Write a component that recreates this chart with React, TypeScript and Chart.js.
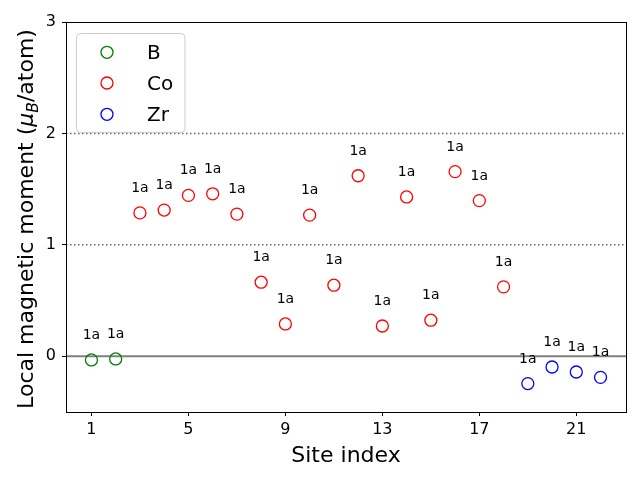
import React, { useEffect, useRef } from "react";
import { Chart, registerables } from "chart.js";

Chart.register(...registerables);

// ---- data ----
const bSites = [1, 2];
const bMoments = [-0.033, -0.024];
const coSites = [3, 4, 5, 6, 7, 8, 9, 10, 11, 12, 13, 14, 15, 16, 17, 18];
const coMoments = [1.287, 1.312, 1.444, 1.458, 1.276, 0.665, 0.29, 1.267, 0.638, 1.62, 0.272, 1.43, 0.324, 1.657, 1.397, 0.623];
const zrSites = [19, 20, 21, 22];
const zrMoments = [-0.245, -0.096, -0.141, -0.189];
const bLabels = ["1a", "1a"];
const coLabels = ["1a", "1a", "1a", "1a", "1a", "1a", "1a", "1a", "1a", "1a", "1a", "1a", "1a", "1a", "1a", "1a"];
const zrLabels = ["1a", "1a", "1a", "1a"];
const xTicks = [1, 5, 9, 13, 17, 21];
const yTicks = [0, 1, 2, 3];
const dottedLevels = [1, 2];
const zeroLevel = 0;
const xRange = [-0.05, 23.05];
const yRange = [-0.5, 3];
const legendNames = ["B", "Co", "Zr"];
const seriesColors = ["green", "red", "blue"];

const FONT = '"DejaVu Sans", sans-serif';

const toPoints = (xs: number[], ys: number[]) => xs.map((x, i) => ({ x, y: ys[i] }));

const customPlugin = {
  id: "customDecor",
  afterDatasetsDraw(chart: any) {
    const { ctx, chartArea: a, scales } = chart;
    const xs = scales.x;
    const ys = scales.y;
    ctx.save();
    // annotations
    ctx.font = `14px ${FONT}`;
    ctx.fillStyle = "#000";
    ctx.textAlign = "center";
    ctx.textBaseline = "alphabetic";
    const labelSets = [bLabels, coLabels, zrLabels];
    [0, 1, 2].forEach((di) => {
      const ds = chart.data.datasets[di];
      ds.data.forEach((p: any, i: number) => {
        const px = xs.getPixelForValue(p.x);
        const py = ys.getPixelForValue(p.y);
        ctx.fillText(labelSets[di][i], px, py - 21);
      });
    });
    // frame
    ctx.strokeStyle = "#000";
    ctx.lineWidth = 1;
    ctx.strokeRect(a.left + 0.5, a.top + 0.5, a.width, a.height);
    ctx.restore();
  },
  afterDraw(chart: any) {
    const { ctx, chartArea: a } = chart;
    ctx.save();
    // legend
    const lx = 76.5, ly = 33.5, lw = 108.5, lh = 99;
    const r = 4;
    ctx.beginPath();
    ctx.moveTo(lx + r, ly);
    ctx.lineTo(lx + lw - r, ly);
    ctx.quadraticCurveTo(lx + lw, ly, lx + lw, ly + r);
    ctx.lineTo(lx + lw, ly + lh - r);
    ctx.quadraticCurveTo(lx + lw, ly + lh, lx + lw - r, ly + lh);
    ctx.lineTo(lx + r, ly + lh);
    ctx.quadraticCurveTo(lx, ly + lh, lx, ly + lh - r);
    ctx.lineTo(lx, ly + r);
    ctx.quadraticCurveTo(lx, ly, lx + r, ly);
    ctx.closePath();
    ctx.fillStyle = "rgba(255,255,255,0.8)";
    ctx.fill();
    ctx.strokeStyle = "#cccccc";
    ctx.lineWidth = 1;
    ctx.stroke();
    const rowY = [52.3, 83, 114.3];
    ctx.font = `20px ${FONT}`;
    ctx.textAlign = "left";
    ctx.textBaseline = "alphabetic";
    legendNames.forEach((name, i) => {
      ctx.beginPath();
      ctx.arc(107, rowY[i], 6, 0, Math.PI * 2);
      ctx.strokeStyle = seriesColors[i];
      ctx.lineWidth = 1.3;
      ctx.stroke();
      ctx.fillStyle = "#000";
      ctx.fillText(name, 147, rowY[i] + 7);
    });

    // x title
    ctx.font = `22px ${FONT}`;
    ctx.fillStyle = "#000";
    ctx.textAlign = "center";
    ctx.fillText("Site index", (a.left + a.right) / 2, 462);

    // y title with math
    const parts = [
      { t: "Local magnetic moment (", f: `22px ${FONT}`, dy: 0 },
      { t: "μ", f: `italic 22px ${FONT}`, dy: 0 },
      { t: "B", f: `italic 15.5px ${FONT}`, dy: 4.5 },
      { t: "/atom)", f: `22px ${FONT}`, dy: 0 },
    ];
    let total = 0;
    const widths = parts.map((p) => {
      ctx.font = p.f;
      const w = ctx.measureText(p.t).width;
      total += w;
      return w;
    });
    ctx.translate(33, 219);
    ctx.rotate(-Math.PI / 2);
    ctx.textAlign = "left";
    let cx = -total / 2;
    parts.forEach((p, i) => {
      ctx.font = p.f;
      ctx.fillText(p.t, cx, p.dy);
      cx += widths[i];
    });
    ctx.restore();
  },
};

export default function App() {
  const ref = useRef<HTMLCanvasElement | null>(null);
  useEffect(() => {
    if (!ref.current) return;
    const lineData = (v: number) => [
      { x: xRange[0], y: v },
      { x: xRange[1], y: v },
    ];
    const chart = new Chart(ref.current, {
      type: "scatter",
      data: {
        datasets: [
          {
            label: legendNames[0],
            data: toPoints(bSites, bMoments),
            borderColor: seriesColors[0],
            backgroundColor: "rgba(0,0,0,0)",
            pointRadius: 6,
            borderWidth: 1.3,
            order: 0,
          },
          {
            label: legendNames[1],
            data: toPoints(coSites, coMoments),
            borderColor: seriesColors[1],
            backgroundColor: "rgba(0,0,0,0)",
            pointRadius: 6,
            borderWidth: 1.3,
            order: 0,
          },
          {
            label: legendNames[2],
            data: toPoints(zrSites, zrMoments),
            borderColor: seriesColors[2],
            backgroundColor: "rgba(0,0,0,0)",
            pointRadius: 6,
            borderWidth: 1.3,
            order: 0,
          },
          ...dottedLevels.map((v) => ({
            type: "line" as const,
            label: "ref" + v,
            data: lineData(v),
            borderColor: "#666666",
            borderWidth: 1.5,
            borderDash: [1.5, 2.5],
            pointRadius: 0,
            showLine: true,
            order: 10,
          })),
          {
            type: "line" as const,
            label: "zero",
            data: lineData(zeroLevel),
            borderColor: "#808080",
            borderWidth: 2,
            pointRadius: 0,
            showLine: true,
            order: 10,
          },
        ],
      },
      options: {
        responsive: false,
        animation: false,
        layout: { padding: { left: 0, top: 22, right: 14, bottom: 0 } },
        plugins: {
          legend: { display: false },
          tooltip: { enabled: false },
        },
        scales: {
          x: {
            type: "linear",
            min: xRange[0],
            max: xRange[1],
            afterBuildTicks: (s: any) => {
              s.ticks = xTicks.map((v) => ({ value: v }));
            },
            afterFit: (s: any) => {
              s.height = 68;
            },
            grid: {
              drawOnChartArea: false,
              drawTicks: true,
              tickLength: 4,
              tickColor: "#000",
              tickWidth: 1,
            },
            border: { display: false },
            ticks: {
              color: "#000",
              font: { family: "DejaVu Sans", size: 16 },
              padding: 4,
              maxRotation: 0,
              callback: (v: any) => String(v),
            },
          },
          y: {
            type: "linear",
            min: yRange[0],
            max: yRange[1],
            afterBuildTicks: (s: any) => {
              s.ticks = yTicks.map((v) => ({ value: v }));
            },
            afterFit: (s: any) => {
              s.width = 66;
            },
            grid: {
              drawOnChartArea: false,
              drawTicks: true,
              tickLength: 4,
              tickColor: "#000",
              tickWidth: 1,
            },
            border: { display: false },
            ticks: {
              color: "#000",
              font: { family: "DejaVu Sans", size: 16 },
              padding: 6,
              callback: (v: any) => String(v),
            },
          },
        },
      },
      plugins: [customPlugin],
    } as any);
    return () => chart.destroy();
  }, []);
  return (
    <div style={{ position: "absolute", left: 0, top: 0, width: 640, height: 480, background: "#fff" }}>
      <canvas ref={ref} width={640} height={480} style={{ display: "block", width: 640, height: 480 }} />
    </div>
  );
}
